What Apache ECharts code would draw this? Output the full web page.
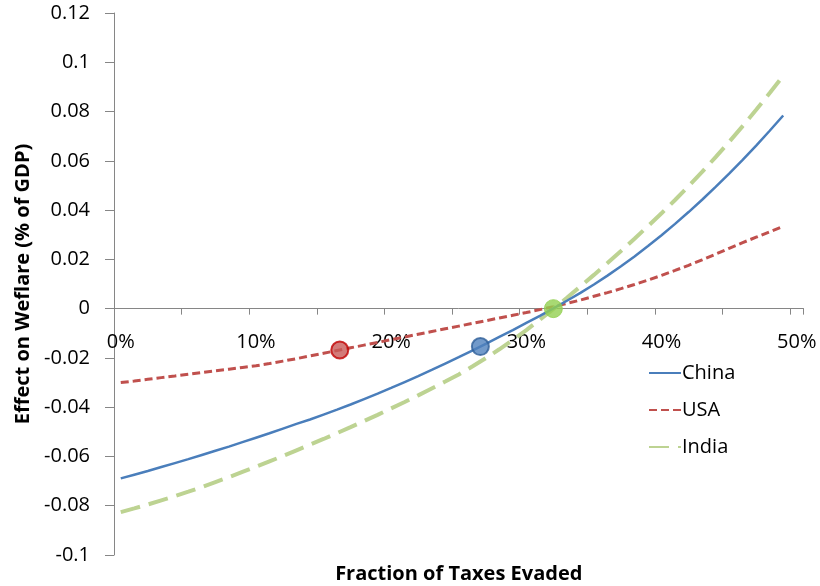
<!DOCTYPE html>
<html>
<head>
<meta charset="utf-8">
<script src="https://cdn.jsdelivr.net/npm/echarts@6/dist/echarts.min.js"></script>
<style>
  html, body { margin: 0; padding: 0; background: #fff; }
  #chart { width: 820px; height: 586px; }
</style>
</head>
<body>
<div id="chart"></div>
<script>
// Fraction of taxes evaded, 0% .. 50% in 1% steps
const categories = [];
for (let i = 0; i <= 50; i++) categories.push(i + '%');

// Welfare effect (% of GDP) per fraction evaded, 0% .. 49%
const china = [
  -0.0689, -0.0674, -0.0659, -0.0643, -0.0627, -0.0611, -0.0594, -0.0577, -0.0560, -0.0542,
  -0.0524, -0.0506, -0.0487, -0.0468, -0.0450, -0.0430, -0.0410, -0.0389, -0.0367, -0.0345,
  -0.0322, -0.0298, -0.0274, -0.0249, -0.0223, -0.0197, -0.0170, -0.0143, -0.0115, -0.0087,
  -0.0058, -0.0029, 0.0001, 0.0032, 0.0064, 0.0098, 0.0134, 0.0172, 0.0212, 0.0254,
  0.0298, 0.0344, 0.0392, 0.0442, 0.0494, 0.0548, 0.0604, 0.0662, 0.0722, 0.0784
];
const usa = [
  -0.0300, -0.0294, -0.0287, -0.0280, -0.0273, -0.0266, -0.0259, -0.0252, -0.0246, -0.0239,
  -0.0232, -0.0223, -0.0213, -0.0203, -0.0192, -0.0181, -0.0170, -0.0159, -0.0148, -0.0137,
  -0.0126, -0.0115, -0.0104, -0.0093, -0.0082, -0.0071, -0.0060, -0.0049, -0.0038, -0.0027,
  -0.0016, -0.0004, 0.0008, 0.0021, 0.0035, 0.0050, 0.0065, 0.0081, 0.0098, 0.0116,
  0.0135, 0.0155, 0.0176, 0.0198, 0.0221, 0.0245, 0.0268, 0.0290, 0.0312, 0.0334
];
const india = [
  -0.0826, -0.0811, -0.0795, -0.0778, -0.0761, -0.0743, -0.0724, -0.0704, -0.0684, -0.0663,
  -0.0642, -0.0620, -0.0598, -0.0575, -0.0552, -0.0529, -0.0505, -0.0481, -0.0456, -0.0431,
  -0.0405, -0.0379, -0.0352, -0.0324, -0.0296, -0.0267, -0.0235, -0.0201, -0.0165, -0.0127,
  -0.0087, -0.0045, -0.0001, 0.0044, 0.0090, 0.0137, 0.0185, 0.0234, 0.0284, 0.0335,
  0.0387, 0.0441, 0.0497, 0.0555, 0.0615, 0.0677, 0.0741, 0.0807, 0.0875, 0.0945
];

// Highlighted points: [fraction evaded (%), welfare effect]
const usaPoint = [[16.2, -0.0168]];
const chinaPoint = [[26.6, -0.0154]];
const indiaPoint = [[32.0, 0.0000]];

// Y axis range
const yMin = -0.1, yMax = 0.12, yStep = 0.02;

const FONT = '"Open Sans", "Liberation Sans", sans-serif';
const AXIS_GRAY = '#868686';

const chart = echarts.init(document.getElementById('chart'), null, { renderer: 'canvas' });

chart.setOption({
  backgroundColor: '#ffffff',
  animation: false,
  textStyle: { fontFamily: FONT },
  grid: {
    left: 114, right: 16.5, top: 13, bottom: 31,
    containLabel: false, outerBoundsMode: 'none'
  },
  legend: {
    data: ['China', 'USA', 'India'],
    orient: 'vertical',
    left: 643,
    top: 358,
    itemWidth: 32,
    itemHeight: 20,
    itemGap: 17,
    itemStyle: { opacity: 0 },
    textStyle: { fontSize: 20, color: '#000', fontFamily: FONT, padding: [0, 0, 0, -4] }
  },
  xAxis: [
    {
      type: 'category',
      data: categories,
      boundaryGap: true,
      name: 'Fraction of Taxes Evaded',
      nameLocation: 'middle',
      nameGap: 9,
      nameTextStyle: { fontSize: 20, fontWeight: 'bold', color: '#000', fontFamily: FONT },
      axisLine: { onZero: true, lineStyle: { color: AXIS_GRAY, width: 1 } },
      axisTick: { show: true, interval: 4, length: 6, lineStyle: { color: AXIS_GRAY } },
      // labels sit just under the zero line, measured up from the plot's lower edge
      axisLabel: { interval: 9, margin: -223, fontSize: 20, color: '#000', fontFamily: FONT },
      splitLine: { show: false }
    },
    {
      // numeric twin of the category axis, used to place the highlighted points
      type: 'value',
      min: -0.5,
      max: 50.5,
      show: false,
      position: 'bottom'
    }
  ],
  yAxis: {
    type: 'value',
    min: yMin,
    max: yMax,
    interval: yStep,
    name: 'Effect on Weflare (% of GDP)',
    nameLocation: 'middle',
    nameRotate: 90,
    nameGap: 80,
    nameTextStyle: { fontSize: 20, fontWeight: 'bold', color: '#000', fontFamily: FONT },
    axisLine: { show: true, onZero: false, lineStyle: { color: AXIS_GRAY, width: 1 } },
    axisTick: { show: true, length: 9, lineStyle: { color: AXIS_GRAY } },
    axisLabel: {
      margin: 24, fontSize: 20, color: '#000', fontFamily: FONT,
      formatter: v => String(parseFloat(v.toFixed(2)))
    },
    splitLine: { show: false }
  },
  series: [
    {
      name: 'China', type: 'line', data: china, xAxisIndex: 0,
      symbol: 'none', z: 3,
      lineStyle: { color: '#4A7EBB', width: 2.5 },
      itemStyle: { color: '#4A7EBB' }
    },
    {
      name: 'USA', type: 'line', data: usa, xAxisIndex: 0,
      symbol: 'none', z: 2,
      lineStyle: { color: '#C0504D', width: 3, type: [8, 4] },
      itemStyle: { color: '#C0504D' }
    },
    {
      name: 'India', type: 'line', data: india, xAxisIndex: 0,
      symbol: 'none', z: 2,
      lineStyle: { color: '#BDD392', width: 4, type: [20, 9] },
      itemStyle: { color: '#BDD392' }
    },
    {
      name: 'USA point', type: 'scatter', xAxisIndex: 1, data: usaPoint,
      symbol: 'circle', symbolSize: 17, z: 5,
      itemStyle: { color: '#C85A58', borderColor: '#C00000', borderWidth: 2 }
    },
    {
      name: 'China point', type: 'scatter', xAxisIndex: 1, data: chinaPoint,
      symbol: 'circle', symbolSize: 17, z: 5,
      itemStyle: { color: '#4F81BD', borderColor: '#2F5F98', borderWidth: 2 }
    },
    {
      name: 'India point', type: 'scatter', xAxisIndex: 1, data: indiaPoint,
      symbol: 'circle', symbolSize: 18, z: 5,
      itemStyle: { color: '#92D050', borderColor: '#92D050', borderWidth: 1 }
    }
  ]
});
</script>
</body>
</html>
